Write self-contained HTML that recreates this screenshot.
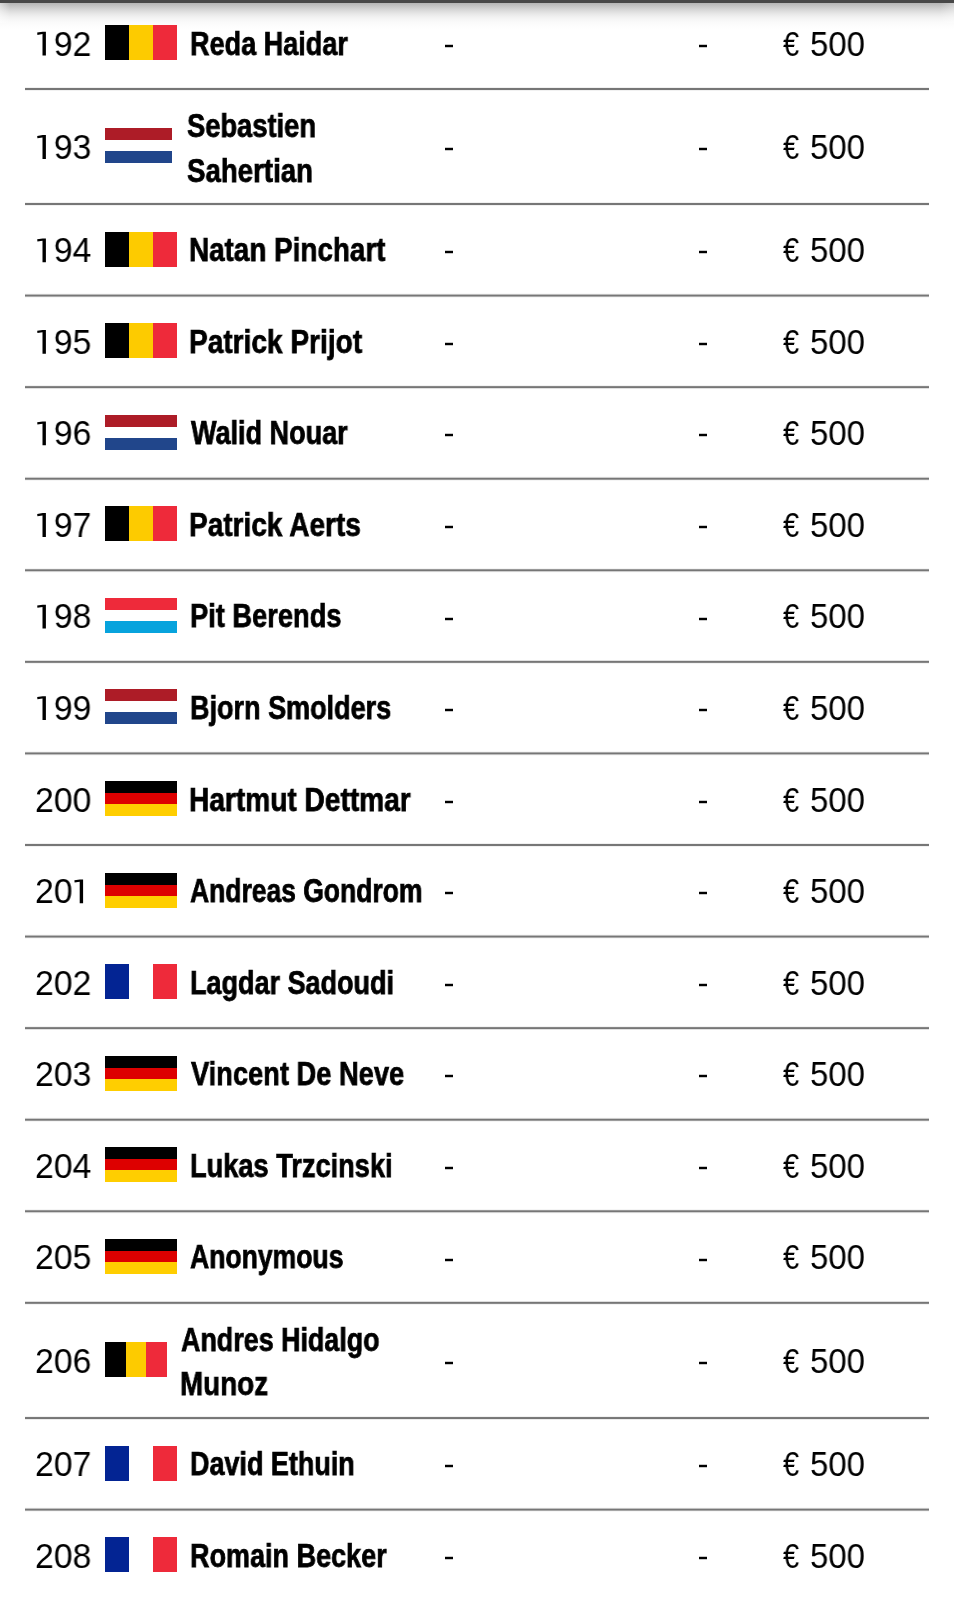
<!DOCTYPE html>
<html><head><meta charset="utf-8"><style>
html,body{margin:0;padding:0;background:#fff;width:954px;height:1600px;overflow:hidden}
body{position:relative;font-family:"Liberation Sans",sans-serif;color:#000}
.t{position:absolute;white-space:nowrap;will-change:transform;line-height:40px;transform-origin:0 0}
.n{font-size:34.2px;color:#000}
.nm{font-size:32.5px;font-weight:bold;-webkit-text-stroke:0.75px #000}
.f{position:absolute}
.tr{color:transparent}
.one{position:absolute;left:0;top:0;overflow:visible}
.d{position:absolute;width:8px;height:2px;background:#000;box-shadow:0 1px 0 rgba(0,0,0,.22),0 -1px 0 rgba(0,0,0,.22)}
.sep{position:absolute;left:25px;width:904px;height:1px}
.shl{position:absolute;left:0;top:3px;width:10px;height:20px;background:linear-gradient(90deg,rgba(255,255,255,.45),rgba(255,255,255,0))}
.shr{position:absolute;right:0;top:3px;width:14px;height:20px;background:linear-gradient(270deg,rgba(255,255,255,.3),rgba(255,255,255,0))}
.top{position:absolute;left:0;top:0;width:954px;height:3px;background:#474747}
.sh{position:absolute;left:0;top:3px;width:954px;height:26px;background:linear-gradient(180deg,#b4b4b4 0,#bebebe 2px,#cdcdcd 5px,#dcdcdc 8px,#e8e8e8 11px,#f1f1f1 14px,#f7f7f7 17px,#fbfbfb 20px,#fff 26px)}
</style></head><body>
<div class="sh"></div><div class="shl"></div><div class="shr"></div><div class="top"></div>
<div class="t n" style="left:34.55px;top:23.52px;transform:scaleX(0.9884)"><span class="tr">1</span>92</div>
<svg class="one" width="954" height="1600"><path d="M45.90 31.82 L45.90 55.62 L42.50 55.62 L42.50 34.12 L37.40 34.91 L37.20 32.62 L42.70 31.82Z"/></svg>
<div class="f" style="left:105px;top:25.02px;width:71.50px;height:35.00px;background:linear-gradient(90deg,#000 0 33.33%,#FDCB00 33.33% 66.66%,#EE2A3A 66.66%)"></div>
<div class="t nm" style="left:190.24px;top:23.52px;transform:scaleX(0.8325)">Reda Haidar</div>
<div class="d" style="left:444.7px;top:44.72px"></div>
<div class="d" style="left:699px;top:44.72px"></div>
<div class="t n" style="left:783.39px;top:23.52px;transform:scaleX(0.8493)">€</div>
<div class="t n" style="left:810.25px;top:23.52px;transform:scaleX(0.9641)">500</div>
<div class="t n" style="left:34.55px;top:126.80px;transform:scaleX(0.9884)"><span class="tr">1</span>93</div>
<svg class="one" width="954" height="1600"><path d="M45.90 135.10 L45.90 158.90 L42.50 158.90 L42.50 137.40 L37.40 138.20 L37.20 135.90 L42.70 135.10Z"/></svg>
<div class="f" style="left:105px;top:128.30px;width:67.00px;height:35.00px;background:linear-gradient(180deg,#AD1C27 0 33.33%,transparent 33.33% 66.66%,#21468B 66.66%)"></div>
<div class="t nm" style="left:186.68px;top:105.65px;transform:scaleX(0.8403)">Sebastien</div>
<div class="t nm" style="left:186.67px;top:150.55px;transform:scaleX(0.8507)">Sahertian</div>
<div class="d" style="left:444.7px;top:148.00px"></div>
<div class="d" style="left:699px;top:148.00px"></div>
<div class="t n" style="left:783.39px;top:126.80px;transform:scaleX(0.8493)">€</div>
<div class="t n" style="left:810.25px;top:126.80px;transform:scaleX(0.9641)">500</div>
<div class="t n" style="left:34.55px;top:230.08px;transform:scaleX(0.9884)"><span class="tr">1</span>94</div>
<svg class="one" width="954" height="1600"><path d="M45.90 238.38 L45.90 262.19 L42.50 262.19 L42.50 240.69 L37.40 241.48 L37.20 239.19 L42.70 238.38Z"/></svg>
<div class="f" style="left:105px;top:231.59px;width:71.50px;height:35.00px;background:linear-gradient(90deg,#000 0 33.33%,#FDCB00 33.33% 66.66%,#EE2A3A 66.66%)"></div>
<div class="t nm" style="left:189.40px;top:230.08px;transform:scaleX(0.8567)">Natan Pinchart</div>
<div class="d" style="left:444.7px;top:251.28px"></div>
<div class="d" style="left:699px;top:251.28px"></div>
<div class="t n" style="left:783.39px;top:230.08px;transform:scaleX(0.8493)">€</div>
<div class="t n" style="left:810.25px;top:230.08px;transform:scaleX(0.9641)">500</div>
<div class="t n" style="left:34.55px;top:321.66px;transform:scaleX(0.9884)"><span class="tr">1</span>95</div>
<svg class="one" width="954" height="1600"><path d="M45.90 329.96 L45.90 353.76 L42.50 353.76 L42.50 332.26 L37.40 333.06 L37.20 330.76 L42.70 329.96Z"/></svg>
<div class="f" style="left:105px;top:323.16px;width:71.50px;height:35.00px;background:linear-gradient(90deg,#000 0 33.33%,#FDCB00 33.33% 66.66%,#EE2A3A 66.66%)"></div>
<div class="t nm" style="left:189.49px;top:321.66px;transform:scaleX(0.8634)">Patrick Prijot</div>
<div class="d" style="left:444.7px;top:342.86px"></div>
<div class="d" style="left:699px;top:342.86px"></div>
<div class="t n" style="left:783.39px;top:321.66px;transform:scaleX(0.8493)">€</div>
<div class="t n" style="left:810.25px;top:321.66px;transform:scaleX(0.9641)">500</div>
<div class="t n" style="left:34.55px;top:413.22px;transform:scaleX(0.9884)"><span class="tr">1</span>96</div>
<svg class="one" width="954" height="1600"><path d="M45.90 421.52 L45.90 445.32 L42.50 445.32 L42.50 423.82 L37.40 424.62 L37.20 422.32 L42.70 421.52Z"/></svg>
<div class="f" style="left:105px;top:414.72px;width:71.50px;height:35.00px;background:linear-gradient(180deg,#AD1C27 0 33.33%,transparent 33.33% 66.66%,#21468B 66.66%)"></div>
<div class="t nm" style="left:191.02px;top:413.22px;transform:scaleX(0.8318)">Walid Nouar</div>
<div class="d" style="left:444.7px;top:434.42px"></div>
<div class="d" style="left:699px;top:434.42px"></div>
<div class="t n" style="left:783.39px;top:413.22px;transform:scaleX(0.8493)">€</div>
<div class="t n" style="left:810.25px;top:413.22px;transform:scaleX(0.9641)">500</div>
<div class="t n" style="left:34.55px;top:504.79px;transform:scaleX(0.9884)"><span class="tr">1</span>97</div>
<svg class="one" width="954" height="1600"><path d="M45.90 513.10 L45.90 536.89 L42.50 536.89 L42.50 515.39 L37.40 516.20 L37.20 513.89 L42.70 513.10Z"/></svg>
<div class="f" style="left:105px;top:506.29px;width:71.50px;height:35.00px;background:linear-gradient(90deg,#000 0 33.33%,#FDCB00 33.33% 66.66%,#EE2A3A 66.66%)"></div>
<div class="t nm" style="left:189.49px;top:504.79px;transform:scaleX(0.8621)">Patrick Aerts</div>
<div class="d" style="left:444.7px;top:526.00px"></div>
<div class="d" style="left:699px;top:526.00px"></div>
<div class="t n" style="left:783.39px;top:504.79px;transform:scaleX(0.8493)">€</div>
<div class="t n" style="left:810.25px;top:504.79px;transform:scaleX(0.9641)">500</div>
<div class="t n" style="left:34.55px;top:596.36px;transform:scaleX(0.9884)"><span class="tr">1</span>98</div>
<svg class="one" width="954" height="1600"><path d="M45.90 604.66 L45.90 628.46 L42.50 628.46 L42.50 606.96 L37.40 607.76 L37.20 605.46 L42.70 604.66Z"/></svg>
<div class="f" style="left:105px;top:597.86px;width:71.50px;height:35.00px;background:linear-gradient(180deg,#EE2A3A 0 33.33%,transparent 33.33% 66.66%,#07A3DD 66.66%)"></div>
<div class="t nm" style="left:189.53px;top:596.36px;transform:scaleX(0.8388)">Pit Berends</div>
<div class="d" style="left:444.7px;top:617.56px"></div>
<div class="d" style="left:699px;top:617.56px"></div>
<div class="t n" style="left:783.39px;top:596.36px;transform:scaleX(0.8493)">€</div>
<div class="t n" style="left:810.25px;top:596.36px;transform:scaleX(0.9641)">500</div>
<div class="t n" style="left:34.55px;top:687.93px;transform:scaleX(0.9884)"><span class="tr">1</span>99</div>
<svg class="one" width="954" height="1600"><path d="M45.90 696.24 L45.90 720.03 L42.50 720.03 L42.50 698.53 L37.40 699.34 L37.20 697.03 L42.70 696.24Z"/></svg>
<div class="f" style="left:105px;top:689.43px;width:71.50px;height:35.00px;background:linear-gradient(180deg,#AD1C27 0 33.33%,transparent 33.33% 66.66%,#21468B 66.66%)"></div>
<div class="t nm" style="left:189.55px;top:687.93px;transform:scaleX(0.8313)">Bjorn Smolders</div>
<div class="d" style="left:444.7px;top:709.13px"></div>
<div class="d" style="left:699px;top:709.13px"></div>
<div class="t n" style="left:783.39px;top:687.93px;transform:scaleX(0.8493)">€</div>
<div class="t n" style="left:810.25px;top:687.93px;transform:scaleX(0.9641)">500</div>
<div class="t n" style="left:34.55px;top:779.50px;transform:scaleX(0.9884)">200</div>
<div class="f" style="left:105px;top:781.00px;width:71.50px;height:35.00px;background:linear-gradient(180deg,#000 0 33.33%,#DD0000 33.33% 66.66%,#FFCE00 66.66%)"></div>
<div class="t nm" style="left:189.49px;top:779.50px;transform:scaleX(0.8648)">Hartmut Dettmar</div>
<div class="d" style="left:444.7px;top:800.70px"></div>
<div class="d" style="left:699px;top:800.70px"></div>
<div class="t n" style="left:783.39px;top:779.50px;transform:scaleX(0.8493)">€</div>
<div class="t n" style="left:810.25px;top:779.50px;transform:scaleX(0.9641)">500</div>
<div class="t n" style="left:34.55px;top:871.07px;transform:scaleX(0.9884)">20<span class="tr">1</span></div>
<svg class="one" width="954" height="1600"><path d="M83.10 879.38 L83.10 903.17 L79.70 903.17 L79.70 881.67 L74.60 882.48 L74.40 880.17 L79.90 879.38Z"/></svg>
<div class="f" style="left:105px;top:872.57px;width:71.50px;height:35.00px;background:linear-gradient(180deg,#000 0 33.33%,#DD0000 33.33% 66.66%,#FFCE00 66.66%)"></div>
<div class="t nm" style="left:190.40px;top:871.07px;transform:scaleX(0.8145)">Andreas Gondrom</div>
<div class="d" style="left:444.7px;top:892.27px"></div>
<div class="d" style="left:699px;top:892.27px"></div>
<div class="t n" style="left:783.39px;top:871.07px;transform:scaleX(0.8493)">€</div>
<div class="t n" style="left:810.25px;top:871.07px;transform:scaleX(0.9641)">500</div>
<div class="t n" style="left:34.55px;top:962.64px;transform:scaleX(0.9884)">202</div>
<div class="f" style="left:105px;top:964.14px;width:71.50px;height:35.00px;background:linear-gradient(90deg,#032493 0 33.33%,transparent 33.33% 66.66%,#EE2A3A 66.66%)"></div>
<div class="t nm" style="left:189.55px;top:962.64px;transform:scaleX(0.8306)">Lagdar Sadoudi</div>
<div class="d" style="left:444.7px;top:983.84px"></div>
<div class="d" style="left:699px;top:983.84px"></div>
<div class="t n" style="left:783.39px;top:962.64px;transform:scaleX(0.8493)">€</div>
<div class="t n" style="left:810.25px;top:962.64px;transform:scaleX(0.9641)">500</div>
<div class="t n" style="left:34.55px;top:1054.21px;transform:scaleX(0.9884)">203</div>
<div class="f" style="left:105px;top:1055.71px;width:71.50px;height:35.00px;background:linear-gradient(180deg,#000 0 33.33%,#DD0000 33.33% 66.66%,#FFCE00 66.66%)"></div>
<div class="t nm" style="left:190.51px;top:1054.21px;transform:scaleX(0.8391)">Vincent De Neve</div>
<div class="d" style="left:444.7px;top:1075.41px"></div>
<div class="d" style="left:699px;top:1075.41px"></div>
<div class="t n" style="left:783.39px;top:1054.21px;transform:scaleX(0.8493)">€</div>
<div class="t n" style="left:810.25px;top:1054.21px;transform:scaleX(0.9641)">500</div>
<div class="t n" style="left:34.55px;top:1145.78px;transform:scaleX(0.9884)">204</div>
<div class="f" style="left:105px;top:1147.28px;width:71.50px;height:35.00px;background:linear-gradient(180deg,#000 0 33.33%,#DD0000 33.33% 66.66%,#FFCE00 66.66%)"></div>
<div class="t nm" style="left:189.54px;top:1145.78px;transform:scaleX(0.8369)">Lukas Trzcinski</div>
<div class="d" style="left:444.7px;top:1166.98px"></div>
<div class="d" style="left:699px;top:1166.98px"></div>
<div class="t n" style="left:783.39px;top:1145.78px;transform:scaleX(0.8493)">€</div>
<div class="t n" style="left:810.25px;top:1145.78px;transform:scaleX(0.9641)">500</div>
<div class="t n" style="left:34.55px;top:1237.35px;transform:scaleX(0.9884)">205</div>
<div class="f" style="left:105px;top:1238.85px;width:71.50px;height:35.00px;background:linear-gradient(180deg,#000 0 33.33%,#DD0000 33.33% 66.66%,#FFCE00 66.66%)"></div>
<div class="t nm" style="left:190.40px;top:1237.35px;transform:scaleX(0.8172)">Anonymous</div>
<div class="d" style="left:444.7px;top:1258.55px"></div>
<div class="d" style="left:699px;top:1258.55px"></div>
<div class="t n" style="left:783.39px;top:1237.35px;transform:scaleX(0.8493)">€</div>
<div class="t n" style="left:810.25px;top:1237.35px;transform:scaleX(0.9641)">500</div>
<div class="t n" style="left:34.55px;top:1340.74px;transform:scaleX(0.9884)">206</div>
<div class="f" style="left:105px;top:1342.24px;width:61.50px;height:35.00px;background:linear-gradient(90deg,#000 0 33.33%,#FDCB00 33.33% 66.66%,#EE2A3A 66.66%)"></div>
<div class="t nm" style="left:180.69px;top:1319.59px;transform:scaleX(0.8268)">Andres Hidalgo</div>
<div class="t nm" style="left:179.50px;top:1364.49px;transform:scaleX(0.8559)">Munoz</div>
<div class="d" style="left:444.7px;top:1361.94px"></div>
<div class="d" style="left:699px;top:1361.94px"></div>
<div class="t n" style="left:783.39px;top:1340.74px;transform:scaleX(0.8493)">€</div>
<div class="t n" style="left:810.25px;top:1340.74px;transform:scaleX(0.9641)">500</div>
<div class="t n" style="left:34.55px;top:1444.12px;transform:scaleX(0.9884)">207</div>
<div class="f" style="left:105px;top:1445.62px;width:71.50px;height:35.00px;background:linear-gradient(90deg,#032493 0 33.33%,transparent 33.33% 66.66%,#EE2A3A 66.66%)"></div>
<div class="t nm" style="left:189.85px;top:1444.12px;transform:scaleX(0.8292)">David Ethuin</div>
<div class="d" style="left:444.7px;top:1465.32px"></div>
<div class="d" style="left:699px;top:1465.32px"></div>
<div class="t n" style="left:783.39px;top:1444.12px;transform:scaleX(0.8493)">€</div>
<div class="t n" style="left:810.25px;top:1444.12px;transform:scaleX(0.9641)">500</div>
<div class="t n" style="left:34.55px;top:1535.69px;transform:scaleX(0.9884)">208</div>
<div class="f" style="left:105px;top:1537.19px;width:71.50px;height:35.00px;background:linear-gradient(90deg,#032493 0 33.33%,transparent 33.33% 66.66%,#EE2A3A 66.66%)"></div>
<div class="t nm" style="left:189.55px;top:1535.69px;transform:scaleX(0.8311)">Romain Becker</div>
<div class="d" style="left:444.7px;top:1556.89px"></div>
<div class="d" style="left:699px;top:1556.89px"></div>
<div class="t n" style="left:783.39px;top:1535.69px;transform:scaleX(0.8493)">€</div>
<div class="t n" style="left:810.25px;top:1535.69px;transform:scaleX(0.9641)">500</div>
<div class="sep" style="top:87px;background:rgb(241,241,241)"></div>
<div class="sep" style="top:88px;background:rgb(118,118,118)"></div>
<div class="sep" style="top:89px;background:rgb(118,118,118)"></div>
<div class="sep" style="top:90px;background:rgb(241,241,241)"></div>
<div class="sep" style="top:202px;background:rgb(241,241,241)"></div>
<div class="sep" style="top:203px;background:rgb(118,118,118)"></div>
<div class="sep" style="top:204px;background:rgb(118,118,118)"></div>
<div class="sep" style="top:205px;background:rgb(241,241,241)"></div>
<div class="sep" style="top:293px;background:rgb(249,249,249)"></div>
<div class="sep" style="top:294px;background:rgb(188,188,188)"></div>
<div class="sep" style="top:295px;background:rgb(118,118,118)"></div>
<div class="sep" style="top:296px;background:rgb(171,171,171)"></div>
<div class="sep" style="top:297px;background:rgb(247,247,247)"></div>
<div class="sep" style="top:385px;background:rgb(243,243,243)"></div>
<div class="sep" style="top:386px;background:rgb(135,135,135)"></div>
<div class="sep" style="top:387px;background:rgb(118,118,118)"></div>
<div class="sep" style="top:388px;background:rgb(224,224,224)"></div>
<div class="sep" style="top:476px;background:rgb(251,251,251)"></div>
<div class="sep" style="top:477px;background:rgb(206,206,206)"></div>
<div class="sep" style="top:478px;background:rgb(118,118,118)"></div>
<div class="sep" style="top:479px;background:rgb(154,154,154)"></div>
<div class="sep" style="top:480px;background:rgb(245,245,245)"></div>
<div class="sep" style="top:568px;background:rgb(245,245,245)"></div>
<div class="sep" style="top:569px;background:rgb(153,153,153)"></div>
<div class="sep" style="top:570px;background:rgb(118,118,118)"></div>
<div class="sep" style="top:571px;background:rgb(207,207,207)"></div>
<div class="sep" style="top:572px;background:rgb(251,251,251)"></div>
<div class="sep" style="top:660px;background:rgb(223,223,223)"></div>
<div class="sep" style="top:661px;background:rgb(118,118,118)"></div>
<div class="sep" style="top:662px;background:rgb(136,136,136)"></div>
<div class="sep" style="top:663px;background:rgb(243,243,243)"></div>
<div class="sep" style="top:751px;background:rgb(247,247,247)"></div>
<div class="sep" style="top:752px;background:rgb(170,170,170)"></div>
<div class="sep" style="top:753px;background:rgb(118,118,118)"></div>
<div class="sep" style="top:754px;background:rgb(190,190,190)"></div>
<div class="sep" style="top:755px;background:rgb(249,249,249)"></div>
<div class="sep" style="top:843px;background:rgb(240,240,240)"></div>
<div class="sep" style="top:844px;background:rgb(118,118,118)"></div>
<div class="sep" style="top:845px;background:rgb(119,119,119)"></div>
<div class="sep" style="top:846px;background:rgb(241,241,241)"></div>
<div class="sep" style="top:934px;background:rgb(249,249,249)"></div>
<div class="sep" style="top:935px;background:rgb(187,187,187)"></div>
<div class="sep" style="top:936px;background:rgb(118,118,118)"></div>
<div class="sep" style="top:937px;background:rgb(172,172,172)"></div>
<div class="sep" style="top:938px;background:rgb(247,247,247)"></div>
<div class="sep" style="top:1026px;background:rgb(243,243,243)"></div>
<div class="sep" style="top:1027px;background:rgb(134,134,134)"></div>
<div class="sep" style="top:1028px;background:rgb(118,118,118)"></div>
<div class="sep" style="top:1029px;background:rgb(225,225,225)"></div>
<div class="sep" style="top:1117px;background:rgb(251,251,251)"></div>
<div class="sep" style="top:1118px;background:rgb(204,204,204)"></div>
<div class="sep" style="top:1119px;background:rgb(118,118,118)"></div>
<div class="sep" style="top:1120px;background:rgb(155,155,155)"></div>
<div class="sep" style="top:1121px;background:rgb(245,245,245)"></div>
<div class="sep" style="top:1209px;background:rgb(245,245,245)"></div>
<div class="sep" style="top:1210px;background:rgb(151,151,151)"></div>
<div class="sep" style="top:1211px;background:rgb(118,118,118)"></div>
<div class="sep" style="top:1212px;background:rgb(208,208,208)"></div>
<div class="sep" style="top:1213px;background:rgb(251,251,251)"></div>
<div class="sep" style="top:1301px;background:rgb(222,222,222)"></div>
<div class="sep" style="top:1302px;background:rgb(118,118,118)"></div>
<div class="sep" style="top:1303px;background:rgb(138,138,138)"></div>
<div class="sep" style="top:1304px;background:rgb(243,243,243)"></div>
<div class="sep" style="top:1416px;background:rgb(242,242,242)"></div>
<div class="sep" style="top:1417px;background:rgb(123,123,123)"></div>
<div class="sep" style="top:1418px;background:rgb(118,118,118)"></div>
<div class="sep" style="top:1419px;background:rgb(236,236,236)"></div>
<div class="sep" style="top:1507px;background:rgb(250,250,250)"></div>
<div class="sep" style="top:1508px;background:rgb(193,193,193)"></div>
<div class="sep" style="top:1509px;background:rgb(118,118,118)"></div>
<div class="sep" style="top:1510px;background:rgb(166,166,166)"></div>
<div class="sep" style="top:1511px;background:rgb(247,247,247)"></div>
</body></html>
